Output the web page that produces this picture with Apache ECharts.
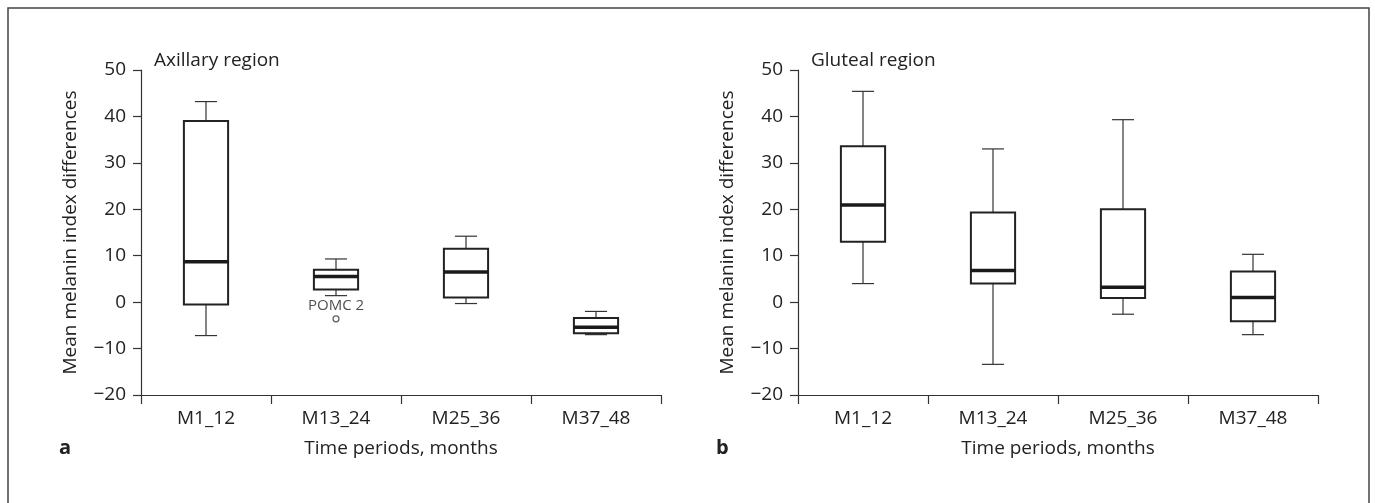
<!DOCTYPE html>
<html>
<head>
<meta charset="utf-8">
<script src="https://cdn.jsdelivr.net/npm/echarts@6/dist/echarts.min.js"></script>
<style>
  html, body { margin: 0; padding: 0; background: #fff; }
  #chart { width: 1375px; height: 503px; }
</style>
</head>
<body>
<div id="chart"></div>
<script>
// categories (time periods)
var categories = ['M1_12', 'M13_24', 'M25_36', 'M37_48'];

// box stats per category: [min, Q1, median, Q3, max]
var axillaryStats = [
    [-7.2, -0.5, 8.7, 39.0, 43.2],
    [1.4, 2.7, 5.5, 7.0, 9.3],
    [-0.3, 1.0, 6.5, 11.5, 14.2],
    [-7.0, -6.7, -5.4, -3.4, -2.0]
];
var glutealStats = [
    [4.0, 13.0, 20.9, 33.6, 45.4],
    [-13.4, 4.0, 6.8, 19.3, 33.0],
    [-2.6, 0.9, 3.2, 20.0, 39.3],
    [-7.0, -4.1, 1.0, 6.6, 10.3]
];

// outlier in axillary panel: [category index, value]
var axillaryOutliers = [[1, -3.6]];
var outlierLabels = ['POMC 2'];

// y axis ticks
var yMin = -20, yMax = 50, yStep = 10;

var FONT = '"Open Sans", "Noto Sans", sans-serif';
var TXT = '#222';
var FS = 19;

var chart = echarts.init(document.getElementById('chart'));

function boxData(stats) {
    return stats.map(function (s, i) {
        return [i, s[0], s[1], s[2], s[3], s[4]];
    });
}

// draw a box: whiskers, box and thick median line
function renderBox(params, api) {
    var x = api.value(0);
    var band = api.size([1, 0])[0];
    var bw = band * 0.34;
    var cw = band * 0.17;
    var pMin = api.coord([x, api.value(1)]);
    var pQ1 = api.coord([x, api.value(2)]);
    var pMed = api.coord([x, api.value(3)]);
    var pQ3 = api.coord([x, api.value(4)]);
    var pMax = api.coord([x, api.value(5)]);
    var cx = pMed[0];
    var thin = { stroke: '#333', lineWidth: 1.2 };
    return {
        type: 'group',
        children: [
            { type: 'line', shape: { x1: cx, y1: pQ3[1], x2: cx, y2: pMax[1] }, style: thin },
            { type: 'line', shape: { x1: cx - cw / 2, y1: pMax[1], x2: cx + cw / 2, y2: pMax[1] }, style: thin },
            { type: 'line', shape: { x1: cx, y1: pQ1[1], x2: cx, y2: pMin[1] }, style: thin },
            { type: 'line', shape: { x1: cx - cw / 2, y1: pMin[1], x2: cx + cw / 2, y2: pMin[1] }, style: thin },
            {
                type: 'rect',
                shape: { x: cx - bw / 2, y: pQ3[1], width: bw, height: pQ1[1] - pQ3[1] },
                style: { fill: '#fff', stroke: '#222', lineWidth: 2 }
            },
            {
                type: 'line',
                shape: { x1: cx - bw / 2, y1: pMed[1], x2: cx + bw / 2, y2: pMed[1] },
                style: { stroke: '#1a1a1a', lineWidth: 3.5 }
            }
        ]
    };
}

function xAxisFor(idx) {
    return {
        type: 'category',
        gridIndex: idx,
        data: categories,
        boundaryGap: true,
        name: 'Time periods, months',
        nameLocation: 'middle',
        nameGap: 44,
        nameTextStyle: { color: TXT, fontSize: FS, fontFamily: FONT },
        axisLine: { onZero: false, lineStyle: { color: '#333', width: 1.2 } },
        axisTick: { show: true, length: 9, lineStyle: { color: '#333', width: 1.2 } },
        axisLabel: { color: TXT, fontSize: FS, fontFamily: FONT, margin: 14 },
        splitLine: { show: false }
    };
}

function yAxisFor(idx) {
    return {
        type: 'value',
        gridIndex: idx,
        min: yMin,
        max: yMax,
        interval: yStep,
        name: 'Mean melanin index differences',
        nameLocation: 'middle',
        nameGap: 61,
        nameTextStyle: { color: TXT, fontSize: FS, fontFamily: FONT },
        axisLine: { show: true, lineStyle: { color: '#333', width: 1.2 } },
        axisTick: { show: true, length: 8, lineStyle: { color: '#333', width: 1.2 } },
        axisLabel: {
            color: TXT, fontSize: FS, fontFamily: FONT, margin: 15,
            formatter: function (v) { return String(v).replace('-', '\u2212'); }
        },
        splitLine: { show: false }
    };
}

var option = {
    backgroundColor: '#fff',
    animation: false,
    grid: [
        { left: 141, top: 70, width: 520, height: 325 },
        { left: 798, top: 70, width: 520, height: 325 }
    ],
    xAxis: [xAxisFor(0), xAxisFor(1)],
    yAxis: [yAxisFor(0), yAxisFor(1)],
    graphic: [
        {
            type: 'rect', silent: true,
            shape: { x: 8, y: 8, width: 1361, height: 600 },
            style: { fill: 'none', stroke: '#444', lineWidth: 1.5 }
        },
        {
            type: 'text', x: 154, y: 61,
            style: { text: 'Axillary region', fill: TXT, font: FS + 'px ' + FONT, verticalAlign: 'middle' }
        },
        {
            type: 'text', x: 811, y: 61,
            style: { text: 'Gluteal region', fill: TXT, font: FS + 'px ' + FONT, verticalAlign: 'middle' }
        },
        {
            type: 'text', x: 59, y: 448,
            style: { text: 'a', fill: TXT, font: 'bold 20px ' + FONT, verticalAlign: 'middle' }
        },
        {
            type: 'text', x: 716, y: 448,
            style: { text: 'b', fill: TXT, font: 'bold 20px ' + FONT, verticalAlign: 'middle' }
        }
    ],
    series: [
        {
            name: 'Axillary',
            type: 'custom',
            xAxisIndex: 0, yAxisIndex: 0,
            renderItem: renderBox,
            encode: { x: 0, y: [1, 2, 3, 4, 5] },
            data: boxData(axillaryStats),
            z: 2
        },
        {
            name: 'Gluteal',
            type: 'custom',
            xAxisIndex: 1, yAxisIndex: 1,
            renderItem: renderBox,
            encode: { x: 0, y: [1, 2, 3, 4, 5] },
            data: boxData(glutealStats),
            z: 2
        },
        {
            name: 'Outlier',
            type: 'scatter',
            xAxisIndex: 0, yAxisIndex: 0,
            symbol: 'circle',
            symbolSize: 6,
            itemStyle: { color: '#fff', borderColor: '#333', borderWidth: 1.2 },
            label: {
                show: true, position: 'top', distance: 2,
                color: TXT, fontSize: 15, fontFamily: FONT,
                formatter: function (p) { return outlierLabels[p.dataIndex]; }
            },
            data: axillaryOutliers,
            z: 3
        }
    ]
};

chart.setOption(option);
</script>
</body>
</html>
